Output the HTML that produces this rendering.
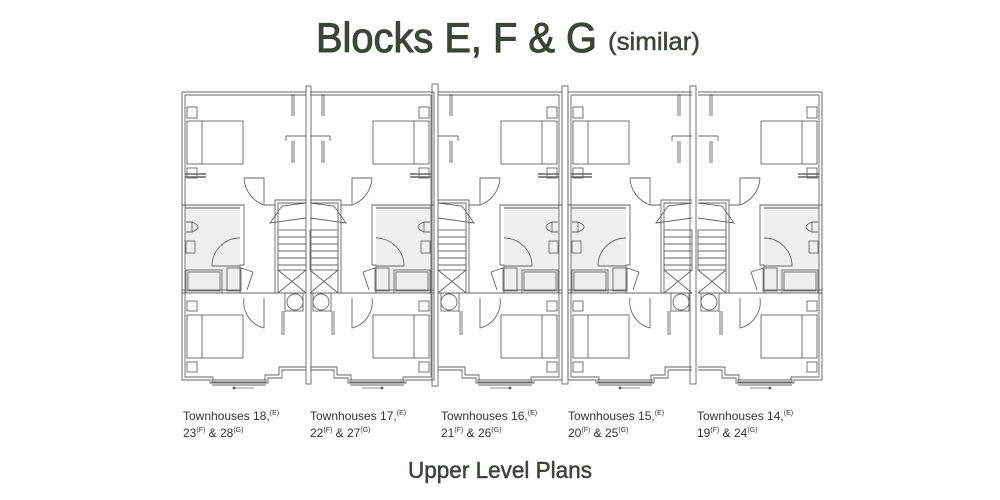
<!DOCTYPE html>
<html><head><meta charset="utf-8"><style>
html,body{margin:0;padding:0;background:#fff;width:1000px;height:500px;overflow:hidden}
</style></head><body>
<svg width="1000" height="500" viewBox="0 0 1000 500" xmlns="http://www.w3.org/2000/svg">
<defs>
<g id="u" fill="none" stroke="#666" stroke-width="0.9">
  <rect x="3" y="117" width="55" height="86" fill="#efefef" stroke="none"/>
  <path d="M0 4 H124 M0 4 V292 H28 V295 H86 V290 H100 V282 H124"/>
  <path d="M3 7 H124 M3 7 V289 H31 V292 H83 V287 H97 V279 H124"/>
  <rect x="5" y="33" width="56" height="43"/>
  <line x1="20" y1="33" x2="20" y2="76"/>
  <rect x="5" y="19" width="10" height="11"/>
  <rect x="5" y="80" width="10" height="10"/>
  <rect x="5" y="227" width="56" height="43"/>
  <line x1="20" y1="227" x2="20" y2="270"/>
  <rect x="5" y="213" width="10" height="10"/>
  <rect x="5" y="274" width="10" height="10"/>
  <rect x="4" y="182" width="36" height="23"/>
  <rect x="6" y="184" width="32" height="19"/>
  <path d="M4 134 h6 v10 h-6 M10 134 q12 5 0 10"/>
  <rect x="4" y="153" width="9" height="12"/>
  <path d="M0 117 H62 V177 H58 V205 M3 120 H58"/>
  <path d="M0 205 H124 M0 202 H58"/>
  <path d="M58 150 A28 28 0 0 0 30 178 H58"/>
  <rect x="45" y="180" width="14" height="23"/>
  <path d="M59 180 l12 4 l-6 18"/>
  <path d="M93 117 V112 H124 M96 117 V115 H124"/>
  <path d="M93 117 V205 M96 117 V205"/>
  <path d="M95 125 L88 135 L124 130 M124 115 L100 118 L88 135"/>
  <rect x="96" y="142" width="28" height="40"/>
  <path d="M96 149 H124 M96 156 H124 M96 163 H124 M96 170 H124 M96 177 H124"/>
  <path d="M96 182 L124 205 M96 205 L124 182"/>
  <path d="M93 117 H82 M82 117 A30 30 0 0 1 62 90 H82 V117"/>
  <path d="M62 210 A27 27 0 0 0 82 240 V210"/>
  <rect x="103" y="205" width="18" height="18"/>
  <circle cx="113" cy="214" r="8"/>
  <path d="M110 6 V28 M112 6 V28 M104 48 H124 M104 48 V53 M110 53 V75 M112 53 V75 M100 223 V247 M102 223 V247"/>
  <path d="M3 86 H24 M3 89 H24" stroke-width="1.5"/>
  <path d="M30 291 V294 H84 V291 M30 297 H84"/>
  <path d="M52 300 H72" stroke-width="0.8"/>
  <circle cx="52" cy="300" r="1" fill="#555"/>
</g>
</defs>
<text x="316" y="52" font-family="Liberation Sans, sans-serif" font-size="42" fill="#3b4538" stroke="#3b4538" stroke-width="1" textLength="281" lengthAdjust="spacingAndGlyphs">Blocks E, F &amp; G</text>
<text x="608" y="50" font-family="Liberation Sans, sans-serif" font-size="25" fill="#3b4538" stroke="#3b4538" stroke-width="0.5" textLength="92" lengthAdjust="spacingAndGlyphs">(similar)</text>

<g transform="translate(182,88)"><use href="#u"/></g>
<g transform="translate(434,88) scale(-1,1)"><use href="#u"/></g>
<g transform="translate(562,88) scale(-1,1)"><use href="#u"/></g>
<g transform="translate(568,88)"><use href="#u"/></g>
<g transform="translate(822,88) scale(-1,1)"><use href="#u"/></g>

<g stroke="#666" stroke-width="0.9" fill="none">
  <rect x="306" y="86" width="5" height="298"/>
  <rect x="432" y="84" width="6" height="302"/>
  <rect x="562" y="86" width="6" height="298"/>
  <rect x="690" y="86" width="6" height="298"/>
  <path d="M182 92 V380 M822 92 V380"/>
</g>

<g font-family="Liberation Sans, sans-serif" font-size="12" fill="#333">
<text x="183" y="420">Townhouses 18,<tspan font-size="7" dy="-5">(E)</tspan></text>
<text x="183" y="437">23<tspan font-size="7" dy="-5">(F)</tspan><tspan dy="5"> &amp; 28</tspan><tspan font-size="7" dy="-5">(G)</tspan></text>
<text x="310" y="420">Townhouses 17,<tspan font-size="7" dy="-5">(E)</tspan></text>
<text x="310" y="437">22<tspan font-size="7" dy="-5">(F)</tspan><tspan dy="5"> &amp; 27</tspan><tspan font-size="7" dy="-5">(G)</tspan></text>
<text x="441" y="420">Townhouses 16,<tspan font-size="7" dy="-5">(E)</tspan></text>
<text x="441" y="437">21<tspan font-size="7" dy="-5">(F)</tspan><tspan dy="5"> &amp; 26</tspan><tspan font-size="7" dy="-5">(G)</tspan></text>
<text x="568" y="420">Townhouses 15,<tspan font-size="7" dy="-5">(E)</tspan></text>
<text x="568" y="437">20<tspan font-size="7" dy="-5">(F)</tspan><tspan dy="5"> &amp; 25</tspan><tspan font-size="7" dy="-5">(G)</tspan></text>
<text x="697" y="420">Townhouses 14,<tspan font-size="7" dy="-5">(E)</tspan></text>
<text x="697" y="437">19<tspan font-size="7" dy="-5">(F)</tspan><tspan dy="5"> &amp; 24</tspan><tspan font-size="7" dy="-5">(G)</tspan></text>
</g>
<text x="408" y="478" font-family="Liberation Sans, sans-serif" font-size="23" fill="#3b4538" stroke="#3b4538" stroke-width="0.5" textLength="184" lengthAdjust="spacingAndGlyphs">Upper Level Plans</text>
</svg>
</body></html>
